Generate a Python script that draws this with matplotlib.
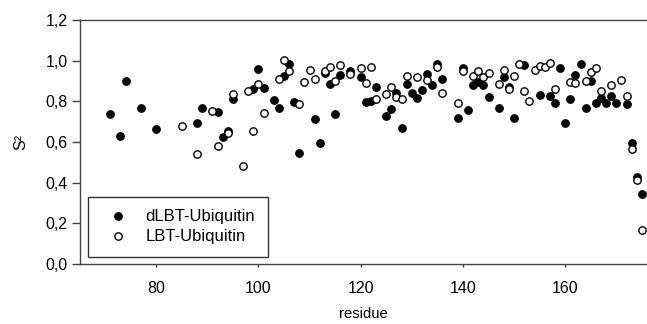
import numpy as np
import matplotlib.pyplot as plt

plt.rcParams['font.family'] = ['Liberation Sans', 'DejaVu Sans']

# dLBT-Ubiquitin (filled)
res_d = [71, 73, 74, 77, 80, 88, 89, 92, 93, 94, 95, 99, 100, 101, 103, 104,
         105, 106, 107, 108, 111, 112, 113, 114, 115, 116, 118, 120, 121, 122,
         123, 125, 126, 127, 128, 129, 130, 131, 132, 133, 134, 135, 136, 139,
         140, 141, 142, 143, 144, 145, 147, 148, 149, 150, 152, 155, 157, 158,
         159, 160, 161, 162, 163, 164, 165, 166, 167, 168, 169, 170, 172, 173,
         174, 175]
s2_d = [0.736, 0.631, 0.899, 0.766, 0.662, 0.692, 0.769, 0.749, 0.626, 0.654,
        0.81, 0.859, 0.961, 0.867, 0.807, 0.766, 0.925, 0.982, 0.799, 0.548,
        0.713, 0.594, 0.938, 0.884, 0.738, 0.928, 0.951, 0.922, 0.799, 0.804,
        0.871, 0.728, 0.762, 0.84, 0.669, 0.885, 0.843, 0.815, 0.854, 0.933,
        0.880, 0.983, 0.912, 0.718, 0.966, 0.756, 0.88, 0.895, 0.879, 0.82,
        0.767, 0.918, 0.869, 0.718, 0.979, 0.831, 0.826, 0.794, 0.966, 0.692,
        0.812, 0.930, 0.982, 0.769, 0.899, 0.790, 0.818, 0.790, 0.828, 0.794,
        0.789, 0.594, 0.429, 0.343]

# LBT-Ubiquitin (open)
res_l = [85, 88, 91, 92, 94, 95, 97, 98, 99, 100, 101, 104, 105, 106, 108, 109,
         110, 111, 113, 114, 115, 116, 118, 120, 121, 122, 123, 125, 126, 127,
         128, 129, 131, 133, 135, 136, 139, 140, 142, 143, 144, 145, 147, 148,
         149, 150, 151, 152, 153, 154, 155, 156, 157, 158, 161, 162, 164, 165,
         166, 167, 169, 171, 172, 173, 174, 175]
s2_l = [0.679, 0.54, 0.751, 0.58, 0.643, 0.838, 0.482, 0.853, 0.653, 0.884,
        0.744, 0.91, 1.002, 0.949, 0.786, 0.895, 0.954, 0.91, 0.949, 0.971,
        0.90, 0.977, 0.933, 0.966, 0.889, 0.968, 0.813, 0.835, 0.872, 0.823,
        0.81, 0.927, 0.918, 0.905, 0.97, 0.841, 0.79, 0.951, 0.925, 0.949,
        0.918, 0.938, 0.884, 0.954, 0.859, 0.925, 0.984, 0.853, 0.803, 0.954,
        0.976, 0.968, 0.987, 0.861, 0.897, 0.889, 0.902, 0.946, 0.962, 0.853,
        0.880, 0.905, 0.825, 0.566, 0.413, 0.167]

xticks = [80, 100, 120, 140, 160]
yticks = [0.0, 0.2, 0.4, 0.6, 0.8, 1.0, 1.2]

fig = plt.figure(figsize=(6.47, 3.24), dpi=100)
ax = fig.add_axes([80/647, 60/324, 567/647, 244/324])

ax.plot(res_d, s2_d, 'o', color='black', markersize=5.3, label='dLBT-Ubiquitin')
ax.plot(res_l, s2_l, 'o', markerfacecolor='white', markeredgecolor='black',
        markeredgewidth=1.0, markersize=5.3, label='LBT-Ubiquitin')

ax.set_xlim(65.1, 176.0)
ax.set_ylim(0, 1.2)
ax.set_xticks(xticks)
ax.set_xticklabels([str(t) for t in xticks])
ax.set_yticks(yticks)
ax.set_yticklabels([('%.1f' % t).replace('.', ',') for t in yticks])

ax.spines['right'].set_visible(False)
for side in ['left', 'bottom', 'top']:
    ax.spines[side].set_color('#444444')
    ax.spines[side].set_linewidth(1.0)

ax.tick_params(axis='y', length=6, width=1, color='#444444', labelsize=11.5, pad=3)
ax.tick_params(axis='x', length=2.5, width=1, color='#444444', labelsize=11.5, pad=10)

ax.set_xlabel('residue', fontsize=10.7, labelpad=8)
ax.set_ylabel('S²', fontsize=11.5, labelpad=12)

leg = ax.legend(loc='lower left', bbox_to_anchor=(88/647, 67/324),
                bbox_transform=fig.transFigure, borderaxespad=0,
                fontsize=12, frameon=True, fancybox=False, borderpad=0.75,
                handlelength=2.1, handletextpad=0.6, labelspacing=0.3)
leg.get_frame().set_edgecolor('black')
leg.get_frame().set_linewidth(1.0)

fig.savefig('out.png', dpi=100)
